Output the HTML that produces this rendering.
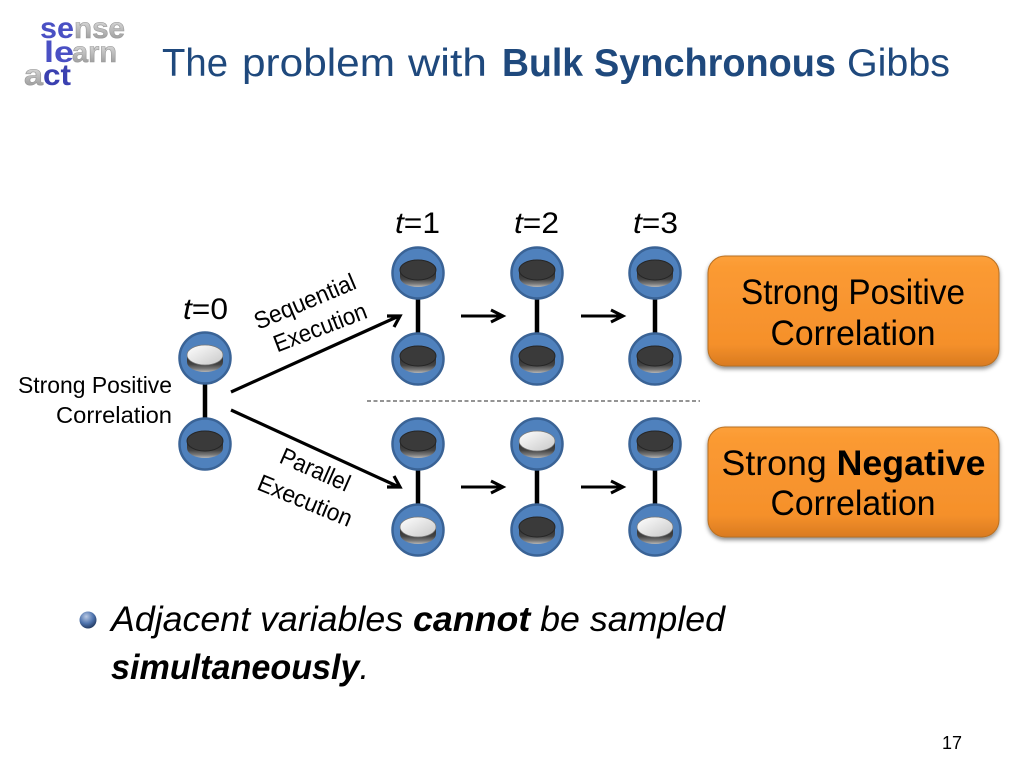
<!DOCTYPE html>
<html><head><meta charset="utf-8"><style>
html,body{margin:0;padding:0;background:#fff}
svg{display:block}
text{font-family:"Liberation Sans",sans-serif}
</style></head><body>
<svg width="1024" height="768" viewBox="0 0 1024 768" xmlns="http://www.w3.org/2000/svg">
<defs>
<linearGradient id="or" x1="0" y1="0" x2="0" y2="1"><stop offset="0" stop-color="#fca03a"/><stop offset=".1" stop-color="#fb9a33"/><stop offset=".8" stop-color="#f5902b"/><stop offset="1" stop-color="#d97a20"/></linearGradient>
<linearGradient id="wh" x1="0" y1="0" x2="1" y2="1"><stop offset="0" stop-color="#fff"/><stop offset="1" stop-color="#c8c8c8"/></linearGradient>
<linearGradient id="side" x1="0" y1="0" x2="0" y2="1"><stop offset="0" stop-color="#2c2c2c"/><stop offset=".55" stop-color="#444"/><stop offset=".8" stop-color="#777"/><stop offset="1" stop-color="#b5b5b5"/></linearGradient>
<linearGradient id="gs" x1="0" y1="0" x2="0" y2="1"><stop offset="0" stop-color="#f2f2f2"/><stop offset=".6" stop-color="#b5b5b5"/><stop offset="1" stop-color="#8a8a8a"/></linearGradient>
<radialGradient id="ball" cx=".4" cy=".3" r=".75"><stop offset="0" stop-color="#b9c9e4"/><stop offset=".55" stop-color="#4f74ae"/><stop offset="1" stop-color="#1d3358"/></radialGradient>
<filter id="sh" x="-10%" y="-10%" width="120%" height="125%"><feDropShadow dx="0" dy="2.500" stdDeviation="2" flood-color="#000" flood-opacity=".45"/></filter>
<g id="base"><circle r="25.500" fill="#4f81bd" stroke="#3a6396" stroke-width="2.500"/><path d="M-18 -3v7a18 10 0 0 0 36 0v-7z" fill="url(#side)"/></g>
<g id="d"><use href="#base"/><ellipse cy="-3" rx="18" ry="10" fill="#3a3a3a" stroke="#262626"/></g>
<g id="w"><use href="#base"/><ellipse cy="-3" rx="18" ry="10" fill="url(#wh)" stroke="#777" stroke-width=".7"/></g>
</defs>

<!-- logo -->
<g font-weight="700" font-size="30">
<text x="40" y="38" fill="#4a50c4" textLength="34" lengthAdjust="spacingAndGlyphs">se</text>
<text x="74" y="38" fill="url(#gs)" stroke="#999" stroke-width=".6" textLength="51" lengthAdjust="spacingAndGlyphs">nse</text>
<text x="44" y="62" fill="#4a50c4" textLength="30" lengthAdjust="spacingAndGlyphs">le</text>
<text x="72" y="62" fill="url(#gs)" stroke="#999" stroke-width=".6" textLength="45" lengthAdjust="spacingAndGlyphs">arn</text>
<text x="24" y="85" fill="url(#gs)" stroke="#999" stroke-width=".6" textLength="19" lengthAdjust="spacingAndGlyphs">a</text>
<text x="43" y="85" fill="#3a40b0" textLength="28" lengthAdjust="spacingAndGlyphs">ct</text>
</g>

<!-- title -->
<g font-size="39" fill="#1f497d">
<text x="162" y="76" textLength="66" lengthAdjust="spacingAndGlyphs">The</text>
<text x="242" y="76" textLength="153" lengthAdjust="spacingAndGlyphs">problem</text>
<text x="408" y="76" textLength="79" lengthAdjust="spacingAndGlyphs">with</text>
<text x="502" y="76" font-weight="700" textLength="81" lengthAdjust="spacingAndGlyphs">Bulk</text>
<text x="594" y="76" font-weight="700" textLength="242" lengthAdjust="spacingAndGlyphs">Synchronous</text>
<text x="847" y="76" textLength="103" lengthAdjust="spacingAndGlyphs">Gibbs</text>
</g>

<!-- t labels -->
<g font-size="30" fill="#000">
<text x="183" y="319" textLength="45" lengthAdjust="spacingAndGlyphs"><tspan font-style="italic">t</tspan>=0</text>
<text x="395" y="233" textLength="45" lengthAdjust="spacingAndGlyphs"><tspan font-style="italic">t</tspan>=1</text>
<text x="514" y="233" textLength="45" lengthAdjust="spacingAndGlyphs"><tspan font-style="italic">t</tspan>=2</text>
<text x="633" y="233" textLength="45" lengthAdjust="spacingAndGlyphs"><tspan font-style="italic">t</tspan>=3</text>
</g>

<!-- left label -->
<g font-size="23" fill="#000" text-anchor="end">
<text x="172" y="393" textLength="154" lengthAdjust="spacingAndGlyphs">Strong Positive</text>
<text x="172" y="423" textLength="116" lengthAdjust="spacingAndGlyphs">Correlation</text>
</g>

<!-- links -->
<g stroke="#000" stroke-width="4.500" fill="none">
<path d="M205 380V425M418 295V340M537 295V340M655 295V340M418 465V510M537 465V510M655 465V510"/>
</g>

<!-- nodes -->
<use href="#w" x="205" y="358"/><use href="#d" x="205" y="444"/>
<use href="#d" x="418" y="273"/><use href="#d" x="418" y="359"/>
<use href="#d" x="537" y="273"/><use href="#d" x="537" y="359"/>
<use href="#d" x="655" y="273"/><use href="#d" x="655" y="359"/>
<use href="#d" x="418" y="444"/><use href="#w" x="418" y="530"/>
<use href="#w" x="537" y="444"/><use href="#d" x="537" y="530"/>
<use href="#d" x="655" y="444"/><use href="#w" x="655" y="530"/>

<!-- arrows -->
<g stroke="#000" stroke-width="3.200" fill="none">
<path d="M231 392L399 316M387 316L400 316L394 327"/>
<path d="M231 410L399 487M394 476L400 487L387 487"/>
<g stroke-width="3">
<path d="M461 316H502M491 310L503 316L491 322"/>
<path d="M581 316H622M611 310L623 316L611 322"/>
<path d="M461 487H502M491 481L503 487L491 493"/>
<path d="M581 487H622M611 481L623 487L611 493"/>
</g>
</g>

<!-- arrow labels -->
<g font-size="24" fill="#000" text-anchor="middle">
<text transform="translate(308 309) rotate(-22.800)" textLength="108" lengthAdjust="spacingAndGlyphs">Sequential</text>
<text transform="translate(323 335) rotate(-21)" textLength="98" lengthAdjust="spacingAndGlyphs">Execution</text>
<text transform="translate(312 477) rotate(23.800)" textLength="74" lengthAdjust="spacingAndGlyphs">Parallel</text>
<text transform="translate(302 508) rotate(22.400)" textLength="100" lengthAdjust="spacingAndGlyphs">Execution</text>
</g>

<!-- divider -->
<path d="M367 401H700" stroke="#555" stroke-width="1.200" stroke-dasharray="4 2.500" fill="none"/>

<!-- boxes -->
<rect x="708" y="256" width="291" height="110" rx="17" fill="url(#or)" stroke="#b86f20" filter="url(#sh)"/>
<rect x="708" y="427" width="291" height="110" rx="17" fill="url(#or)" stroke="#b86f20" filter="url(#sh)"/>
<g font-size="35" fill="#000" text-anchor="middle">
<text x="853" y="304" textLength="224" lengthAdjust="spacingAndGlyphs">Strong Positive</text>
<text x="853" y="345" textLength="165" lengthAdjust="spacingAndGlyphs">Correlation</text>
<text x="853.500" y="475" textLength="264" lengthAdjust="spacingAndGlyphs">Strong <tspan font-weight="700">Negative</tspan></text>
<text x="853" y="515" textLength="165" lengthAdjust="spacingAndGlyphs">Correlation</text>
</g>

<!-- bullet -->
<circle cx="88" cy="620" r="8.500" fill="url(#ball)"/>
<g font-size="35" font-style="italic" fill="#000">
<text x="111" y="631" textLength="614" lengthAdjust="spacingAndGlyphs">Adjacent variables <tspan font-weight="700">cannot</tspan> be sampled</text>
<text x="111" y="679" textLength="258" lengthAdjust="spacingAndGlyphs"><tspan font-weight="700">simultaneously</tspan>.</text>
</g>

<text x="942" y="749" font-size="18" fill="#000" textLength="20" lengthAdjust="spacingAndGlyphs">17</text>
</svg>
</body></html>
